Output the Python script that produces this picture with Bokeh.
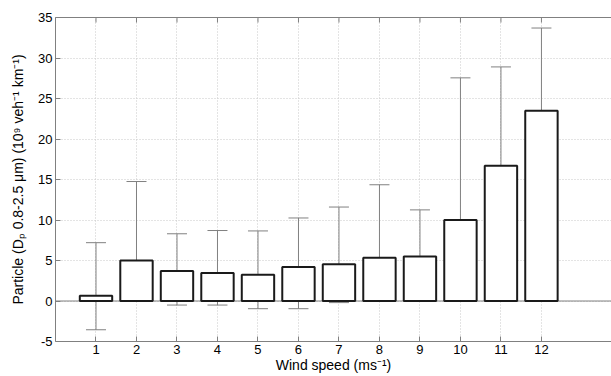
import math
from bokeh.plotting import figure
from bokeh.models import Range1d, FixedTicker, LinearAxis, Whisker, TeeHead, Span, ColumnDataSource
from bokeh.embed import file_html
from bokeh.resources import INLINE

wind_speed = [1, 2, 3, 4, 5, 6, 7, 8, 9, 10, 11, 12]
mean_vals = [0.65, 5.0, 3.7, 3.45, 3.25, 4.2, 4.55, 5.35, 5.5, 10.0, 16.7, 23.5]
upper_vals = [7.2, 14.75, 8.3, 8.7, 8.65, 10.25, 11.6, 14.35, 11.25, 27.55, 28.9, 33.7]
lower_vals = [-3.55, -0.05, -0.5, -0.5, -0.95, -0.95, -0.2, 0.05, -0.03, 0.45, 3.35, 2.6]
y_ticks = [-5, 0, 5, 10, 15, 20, 25, 30, 35]
Y_MIN, Y_MAX = -5, 35

FONT = "Liberation Sans"
AX = "#808080"

p = figure(width=611, height=376, output_backend="svg", toolbar_location=None,
           x_range=Range1d(0, 13.73), y_range=Range1d(Y_MIN, Y_MAX),
           min_border_left=55, min_border_right=0, min_border_top=17, min_border_bottom=35,
           outline_line_color=None, background_fill_color="white", border_fill_color="white")

p.xaxis.ticker = FixedTicker(ticks=wind_speed)
p.yaxis.ticker = FixedTicker(ticks=y_ticks)
p.yaxis.major_label_overrides = {-5: "-5"}
for ax in (p.xaxis[0], p.yaxis[0]):
    ax.axis_line_color = AX
    ax.major_tick_line_color = AX
    ax.major_tick_in = 5
    ax.major_tick_out = 0
    ax.minor_tick_line_color = None
    ax.major_label_text_font = FONT
    ax.major_label_text_font_size = "13px"
    ax.major_label_text_color = "black"
    ax.axis_label_text_font = FONT
    ax.axis_label_text_font_size = "14px"
    ax.axis_label_text_font_style = "normal"
    ax.axis_label_text_color = "black"
p.xaxis.axis_label = "Wind speed (ms\u207b\u00b9)"
p.yaxis.axis_label = "Particle (D\u209a 0.8-2.5 \u03bcm) (10\u2079 veh\u207b\u00b9 km\u207b\u00b9)"
p.xaxis.major_label_standoff = 3
p.xaxis.axis_label_standoff = 0
p.yaxis.major_label_standoff = 3
p.yaxis.axis_label_standoff = 9

top = LinearAxis(ticker=FixedTicker(ticks=[]), axis_line_color=AX,
                 minor_tick_line_color=None, major_tick_line_color=None)
p.add_layout(top, "above")

p.xgrid.ticker = FixedTicker(ticks=wind_speed)
p.grid.grid_line_color = "#c8c8c8"
p.grid.grid_line_dash = "1 2"
p.grid.grid_line_width = 1

p.add_layout(Span(location=0, dimension="width", line_color=AX, line_width=1, level="underlay"))

src = ColumnDataSource(dict(x=wind_speed, top=mean_vals, up=upper_vals, lo=lower_vals,
                            ytop=[Y_MAX] * len(wind_speed)))
p.vbar(x="x", top="top", bottom=0, width=0.8, source=src,
       fill_color="white", line_color="#1a1a1a", line_width=2)

# inward tick marks along the top edge (clipped to the frame)
p.scatter(x="x", y="ytop", source=src, marker="dash", angle=math.pi / 2, size=10,
          line_color=AX, line_width=1)

p.add_layout(Whisker(source=src, base="x", upper="up", lower="lo",
                     line_color=AX, line_width=1,
                     upper_head=TeeHead(size=20, line_color=AX, line_width=1),
                     lower_head=TeeHead(size=20, line_color=AX, line_width=1)))

open("out.html", "w").write(file_html(p, INLINE))
